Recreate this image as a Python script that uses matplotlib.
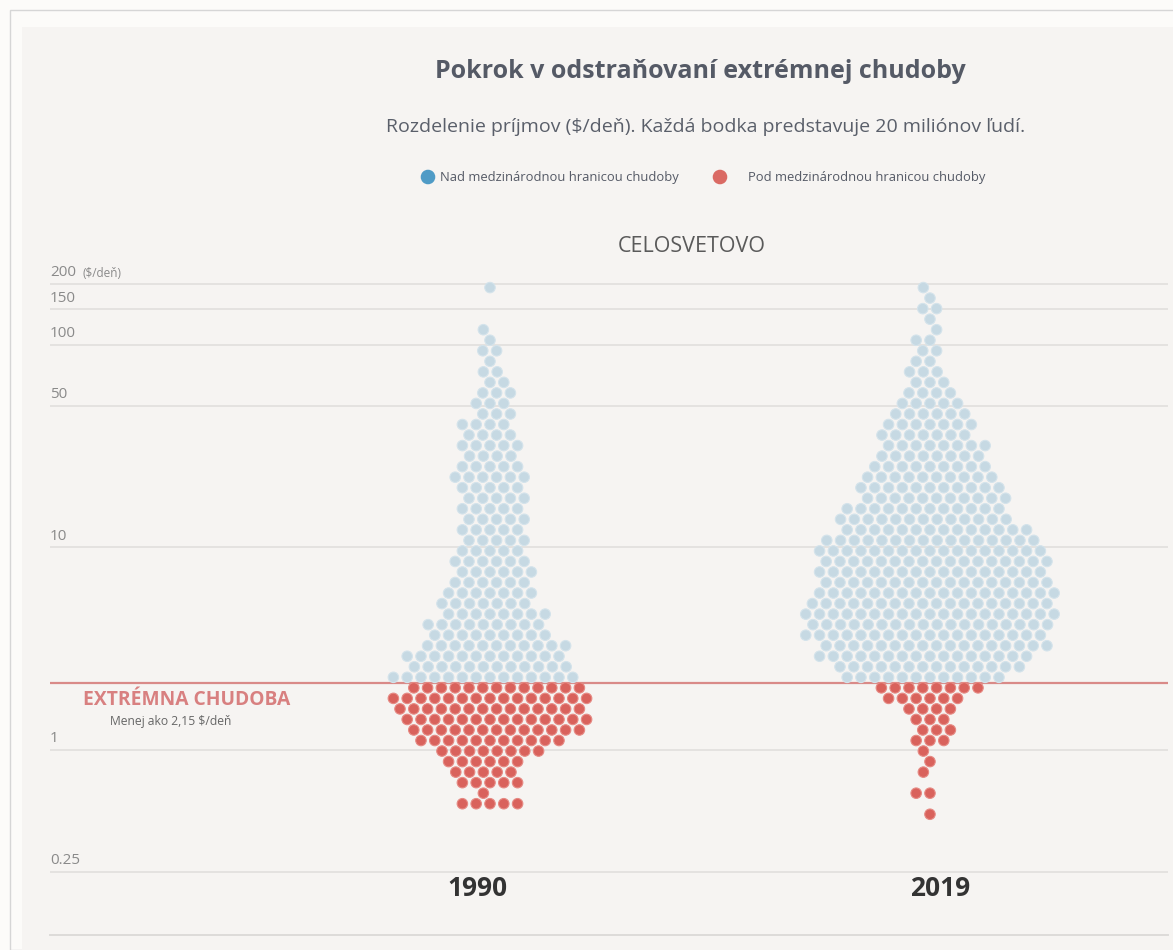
import numpy as np
import matplotlib.pyplot as plt
from matplotlib.patches import Rectangle
from matplotlib.transforms import blended_transform_factory

W, H = 1173, 950

years = ['1990', '2019']
poverty_line = 2.15
row_step = 0.052  # height of one income row, in decades of $/day

# dots per income row (1 dot = 20 mil. people), counted from the 2.15 line outwards
above_1990 = [14, 12, 12, 11, 9, 9, 8, 7, 7, 6, 6, 6, 5, 5, 5, 5, 5, 5, 5,
              6, 5, 4, 5, 4, 4, 3, 3, 3, 2, 2, 1, 2, 1, 1, 0, 0, 0, 1]
below_1990 = [13, 15, 14, 14, 13, 11, 8, 6, 5, 5, 1, 5]
above_2019 = [12, 14, 16, 17, 18, 18, 19, 18, 18, 17, 17, 17, 17, 16, 14, 13, 12, 11, 11,
              10, 9, 8, 8, 7, 7, 6, 5, 4, 3, 3, 2, 2, 2, 1, 1, 2, 1, 1]
below_2019 = [8, 6, 4, 3, 3, 3, 1, 1, 1, 0, 2, 0, 1]

above = [above_1990, above_2019]
below = [below_1990, below_2019]

tick_vals = [0.25, 1, 10, 50, 100, 150, 200]
tick_text = ['0.25', '1', '10', '50', '100', '150', '200']

blue = '#c6d9e3'
red = '#d9625c'


def swarm(ypix, d):
    # simple beeswarm: each dot goes to the free spot closest to the centre
    xs = np.zeros(len(ypix))
    for i, y in enumerate(ypix):
        py = ypix[:i]
        px = xs[:i]
        near = np.abs(py - y) < d
        px, py = px[near], py[near]
        dx = np.sqrt(d * d - (py - y) ** 2)
        cands = np.concatenate([[0.0], px - dx, px + dx])
        sign = 1 if i % 2 == 0 else -1
        order = np.lexsort((-sign * cands, np.round(np.abs(cands), 6)))
        for c in cands[order]:
            if np.all((px - c) ** 2 + (py - y) ** 2 >= d * d - 1e-6):
                xs[i] = c
                break
    return xs


fig = plt.figure(figsize=(W / 100, H / 100), dpi=100, facecolor='#fcfbf9')
fig.patches.append(Rectangle((10 / W, 0), 1, 1 - 10 / H, transform=fig.transFigure,
                             facecolor='#fcfbf9', edgecolor='#d6d6d6', lw=1, zorder=-3))
fig.patches.append(Rectangle((22 / W, 0), 1, 1 - 27 / H, transform=fig.transFigure,
                             facecolor='#f6f4f2', edgecolor='none', zorder=-2))

ax = fig.add_axes([50 / W, 1 - 935 / H, 1118 / W, 665 / H])
ax.set_facecolor('none')
ax.set_yscale('log')
ax.set_ylim(0.122, 234)
ax.set_xlim(-1.0, 1.541)
ax.set_yticks(tick_vals)
ax.yaxis.set_minor_locator(plt.NullLocator())
ax.set_yticklabels([])
ax.set_xticks([])
ax.tick_params(length=0)
ax.yaxis.grid(True, color='#e4e2e0', lw=1.4)
for s in ['top', 'left', 'right']:
    ax.spines[s].set_visible(False)
ax.spines['bottom'].set_color('#dddbd9')
ax.spines['bottom'].set_linewidth(1.4)

ax.axhline(poverty_line, color='#d98a88', lw=1.6, zorder=1)

tr = blended_transform_factory(ax.transAxes, ax.transData)
for v, t in zip(tick_vals, tick_text):
    ax.text(0, v * 1.04, t, transform=tr, ha='left', va='bottom',
            fontsize=11, color='#8a8a8a', family='Open Sans')
ax.text(0.029, 200 * 1.045, '($/deň)', transform=tr, ha='left', va='bottom',
        fontsize=8.5, color='#8a8a8a', family='Open Sans')

fig.canvas.draw()
for i, yr in enumerate(years):
    levels, colors = [], []
    for k in range(max(len(above[i]), len(below[i]))):
        if k < len(above[i]):
            levels += [poverty_line * 10 ** ((k + 0.5) * row_step)] * above[i][k]
            colors += [blue] * above[i][k]
        if k < len(below[i]):
            levels += [poverty_line * 10 ** (-(k + 0.5) * row_step)] * below[i][k]
            colors += [red] * below[i][k]
    levels = np.array(levels)
    pix = ax.transData.transform(np.column_stack([np.full(len(levels), i), levels]))
    # pack tightly, then loosen sideways so the dots get small gaps like the original
    offs = swarm(pix[:, 1], 12.0) * 1.15
    pts = ax.transData.inverted().transform(np.column_stack([pix[:, 0] + offs, pix[:, 1]]))
    edge = ['#d4e3eb' if c == blue else '#e68a84' for c in colors]
    ax.scatter(pts[:, 0], levels, s=57, c=colors, edgecolors=edge, linewidths=0.8, zorder=3)

# overlay in pixel coordinates for the text around the chart
ov = fig.add_axes([0, 0, 1, 1])
ov.set_xlim(0, W)
ov.set_ylim(H, 0)
ov.axis('off')

ov.text(477, 888, years[0], ha='center', va='center', fontsize=19, fontweight='bold',
        color='#333333', family='Open Sans')
ov.text(940, 888, years[1], ha='center', va='center', fontsize=19, fontweight='bold',
        color='#333333', family='Open Sans')

ov.text(83, 700, 'EXTRÉMNA CHUDOBA', ha='left', va='center',
        fontsize=13.9, fontweight='bold', color='#d88080', family='Open Sans')
ov.text(110, 722, 'Menej ako 2,15 $/deň', ha='left', va='center',
        fontsize=8.7, color='#666666', family='Open Sans')

ov.text(700, 72, 'Pokrok v odstraňovaní extrémnej chudoby', ha='center', va='center',
        fontsize=18, fontweight='bold', color='#555a66', family='Open Sans')
ov.text(706, 127, 'Rozdelenie príjmov ($/deň). Každá bodka predstavuje 20 miliónov ľudí.',
        ha='center', va='center', fontsize=14, color='#5a5f6a', family='Open Sans')
ov.text(692, 246, 'CELOSVETOVO', ha='center', va='center', fontsize=15.5,
        color='#5a5a5a', family='Open Sans')

ov.scatter([428, 720], [177, 177], s=90, c=['#4f9bc6', '#da6a64'])
ov.text(440, 177, 'Nad medzinárodnou hranicou chudoby', ha='left', va='center',
        fontsize=9.4, color='#555a66', family='Open Sans')
ov.text(748, 177, 'Pod medzinárodnou hranicou chudoby', ha='left', va='center',
        fontsize=9.4, color='#555a66', family='Open Sans')

fig.savefig('out.png', dpi=100, facecolor=fig.get_facecolor())
